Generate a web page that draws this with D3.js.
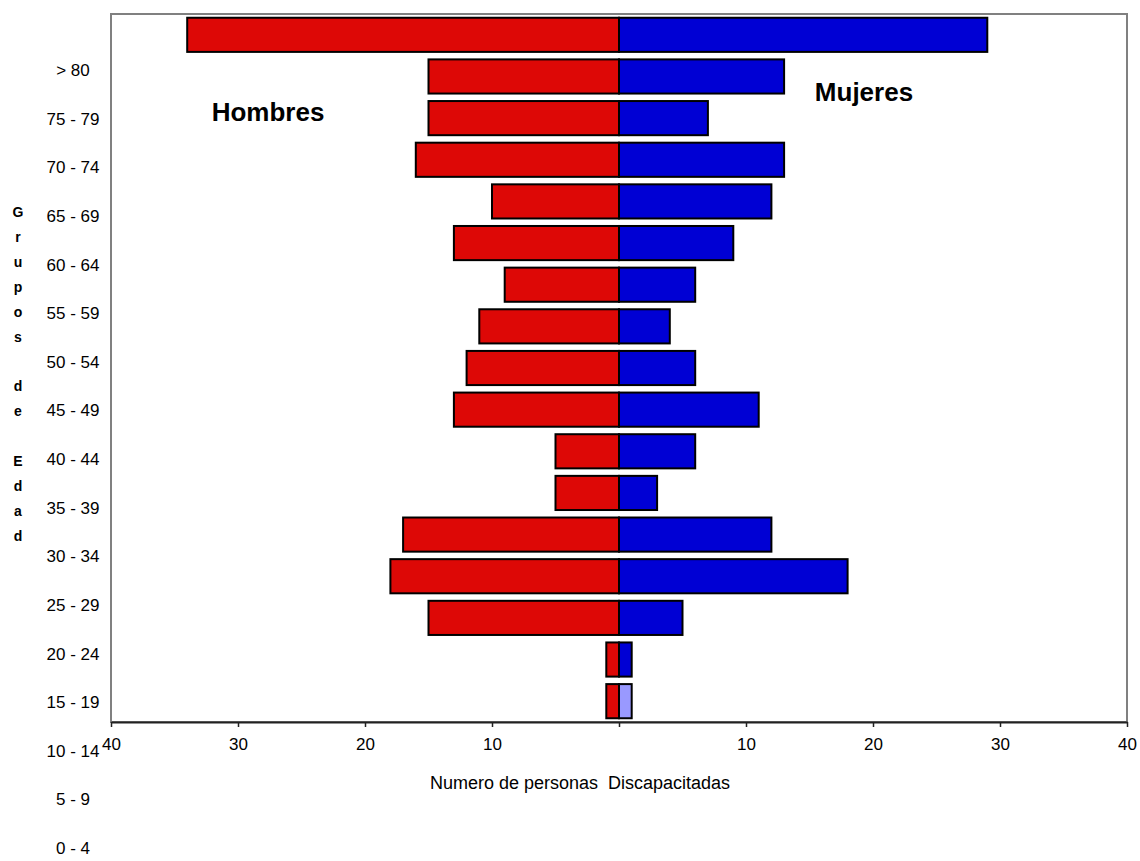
<!DOCTYPE html>
<html>
<head>
<meta charset="utf-8">
<script src="https://cdn.jsdelivr.net/npm/d3@7"></script>
<style>
  body { margin: 0; background: #fff; }
  text { font-family: "Liberation Sans", Arial, sans-serif; fill: #000; }
</style>
</head>
<body>
<svg id="chart" width="1140" height="861"></svg>
<script>
// Age groups, oldest first (top of the pyramid)
const ageGroups = ["> 80", "75 - 79", "70 - 74", "65 - 69", "60 - 64", "55 - 59", "50 - 54",
  "45 - 49", "40 - 44", "35 - 39", "30 - 34", "25 - 29", "20 - 24", "15 - 19",
  "10 - 14", "5 - 9", "0 - 4"];
// Number of disabled persons per age group
const hombres = [34, 15, 15, 16, 10, 13, 9, 11, 12, 13, 5, 5, 17, 18, 15, 1, 1];
const mujeres = [29, 13, 7, 13, 12, 9, 6, 4, 6, 11, 6, 3, 12, 18, 5, 1, 1];
const xTicks = [-40, -30, -20, -10, 0, 10, 20, 30, 40];
const seriesNames = ["Hombres", "Mujeres"];
const xTitle = "Numero de personas  Discapacitadas";
const yTitle = "Grupos de Edad";

const W = 1140, H = 861;
const plot = { left: 111, right: 1127, top: 14, bottom: 722 };
const colors = { hombres: "#dd0806", mujeres: "#0000d4", mujeresLast: "#9999ff" };

const svg = d3.select("#chart");

const x = d3.scaleLinear().domain([-40, 40]).range([plot.left, plot.right]);
const y = d3.scaleBand().domain(ageGroups).range([plot.top, plot.bottom]).paddingInner(0.18).paddingOuter(0.09);

// Plot frame
svg.append("rect")
  .attr("x", plot.left).attr("y", plot.top)
  .attr("width", plot.right - plot.left).attr("height", plot.bottom - plot.top)
  .attr("fill", "#fff").attr("stroke", "#808080").attr("stroke-width", 2);

const rows = ageGroups.map((g, i) => ({ g, i, h: hombres[i], m: mujeres[i] }));

// Men to the left of zero
svg.append("g").selectAll("rect").data(rows).join("rect")
  .attr("x", d => x(-d.h)).attr("y", d => y(d.g))
  .attr("width", d => x(0) - x(-d.h)).attr("height", y.bandwidth())
  .attr("fill", colors.hombres).attr("stroke", "#000").attr("stroke-width", 2);

// Women to the right of zero
svg.append("g").selectAll("rect").data(rows).join("rect")
  .attr("x", x(0)).attr("y", d => y(d.g))
  .attr("width", d => x(d.m) - x(0)).attr("height", y.bandwidth())
  .attr("fill", d => d.i === ageGroups.length - 1 ? colors.mujeresLast : colors.mujeres)
  .attr("stroke", "#000").attr("stroke-width", 2);

// Horizontal axis: absolute counts, zero left unlabeled
const xAxis = svg.append("g")
  .attr("transform", `translate(0,${plot.bottom})`)
  .call(d3.axisBottom(x).tickValues(xTicks).tickSize(5).tickSizeOuter(0)
    .tickFormat(d => d === 0 ? "" : Math.abs(d)));
xAxis.select(".domain").attr("stroke", "#222").attr("stroke-width", 2);
xAxis.selectAll(".tick line").attr("stroke", "#222").attr("stroke-width", 1.5);
xAxis.selectAll(".tick text").attr("font-size", 17).attr("dy", "1.2em")
  .style("font-family", "'Liberation Sans', Arial, sans-serif").attr("fill", "#000");

// Age group labels
const yLab = d3.scalePoint().domain(ageGroups).range([70, 848]);
svg.append("g").selectAll("text").data(ageGroups).join("text")
  .attr("x", 73).attr("y", d => yLab(d)).attr("dy", "0.36em")
  .attr("text-anchor", "middle").attr("font-size", 17)
  .text(d => d);

// Vertical title, one letter per line
const letters = yTitle.split("");
svg.append("text")
  .attr("text-anchor", "middle").attr("font-size", 14).attr("font-weight", "bold")
  .selectAll("tspan").data(letters).join("tspan")
  .attr("x", 18).attr("y", (d, i) => 212 + i * 24.9).attr("dy", "0.36em")
  .text(d => d === " " ? "" : d);

// Axis title
svg.append("text")
  .attr("x", 580).attr("y", 783).attr("dy", "0.36em")
  .attr("text-anchor", "middle").attr("font-size", 18)
  .attr("xml:space", "preserve").style("white-space", "pre")
  .text(xTitle);

// Series labels
svg.append("text").attr("x", 268).attr("y", 121)
  .attr("text-anchor", "middle").attr("font-size", 26).attr("font-weight", "bold")
  .text(seriesNames[0]);
svg.append("text").attr("x", 864).attr("y", 101)
  .attr("text-anchor", "middle").attr("font-size", 26).attr("font-weight", "bold")
  .text(seriesNames[1]);
</script>
</body>
</html>
